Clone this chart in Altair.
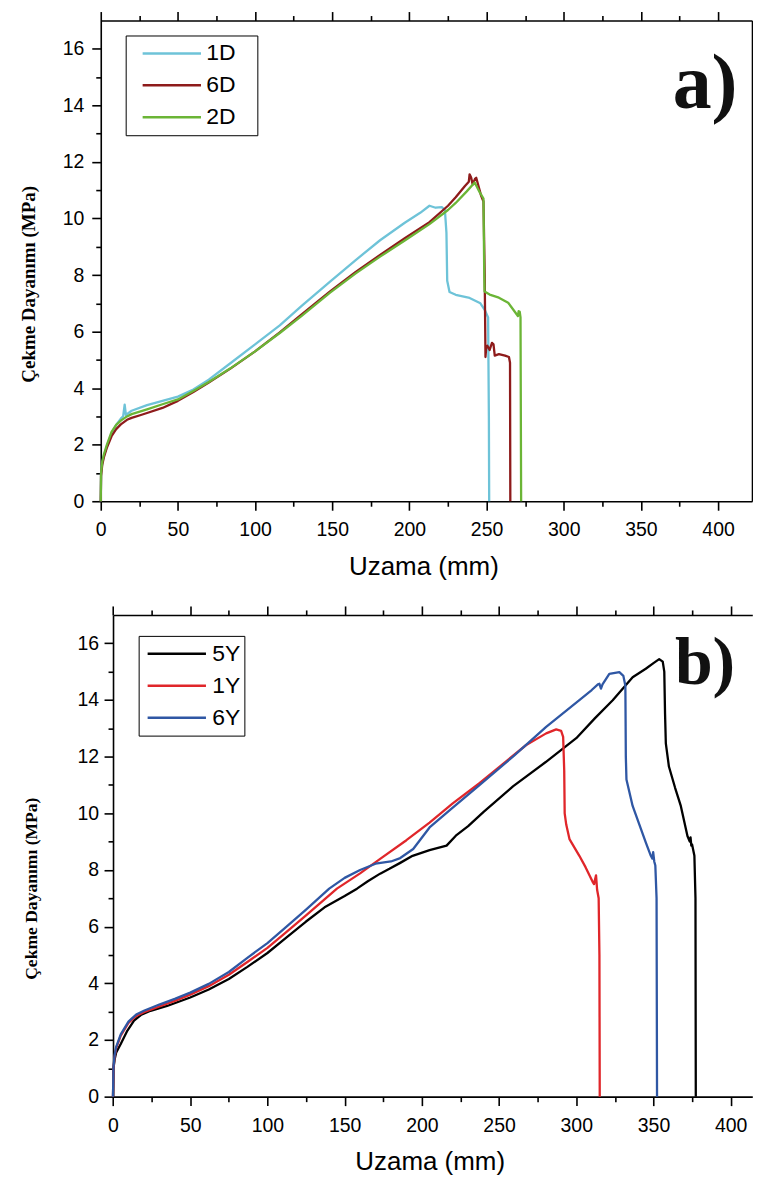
import altair as alt
import pandas as pd

# ---------------- Panel a) data ----------------
A_1D_x = [0, 0.2, 1, 2, 4, 7, 10, 13, 14.5, 15.5, 16.3, 20, 30, 40, 50, 60, 70, 84, 100, 116,
          130, 148.6, 165, 181, 197, 207, 213, 217, 221, 223, 224, 224.5, 226, 230, 239, 246,
          249, 251, 251.5, 251.7]
A_1D_y = [0, 1.0, 1.35, 1.6, 1.95, 2.4, 2.7, 2.92, 3.0, 3.42, 3.05, 3.2, 3.4, 3.55, 3.7, 3.95,
          4.3, 4.88, 5.55, 6.22, 6.9, 7.77, 8.52, 9.23, 9.85, 10.2, 10.45, 10.38, 10.4, 10.3,
          9.5, 7.8, 7.4, 7.3, 7.19, 7.0, 6.75, 6.5, 3.0, 0]

A_6D_x = [0, 0.2, 1, 2, 4, 7, 10, 13, 17, 20, 26, 30, 40, 50, 60, 70, 84, 100, 116, 130, 148.6,
          165, 181, 197, 213, 225, 230, 236, 238.5, 239, 240, 241, 242.5, 243.3, 244.5, 246.5,
          248, 248.8, 249, 249.3, 249.8, 250.5, 252, 253.5, 254.5, 255.3, 258, 262, 264.5, 265.2,
          265.4]
A_6D_y = [0, 0.9, 1.3, 1.55, 1.9, 2.3, 2.55, 2.72, 2.88, 2.95, 3.05, 3.12, 3.3, 3.55, 3.86, 4.2,
          4.69, 5.3, 5.97, 6.6, 7.42, 8.1, 8.71, 9.3, 9.87, 10.45, 10.75, 11.15, 11.3, 11.56,
          11.45, 11.2, 11.4, 11.44, 11.2, 10.8, 10.6, 8.0, 6.8, 5.1, 5.45, 5.5, 5.35, 5.6, 5.55,
          5.15, 5.2, 5.15, 5.1, 4.9, 0]

A_2D_x = [0, 0.2, 1, 2, 4, 7, 10, 13, 17, 20, 30, 40, 50, 60, 70, 84, 100, 116, 130, 148.6, 165,
          181, 197, 213, 225, 230, 237, 242.3, 245.6, 248, 248.5, 248.7, 252, 258, 264, 267,
          270.3, 270.8, 271.5, 272, 272.4]
A_2D_y = [0, 1.0, 1.4, 1.65, 2.0, 2.45, 2.7, 2.85, 3.0, 3.08, 3.25, 3.43, 3.6, 3.9, 4.22, 4.7,
          5.3, 5.95, 6.55, 7.38, 8.05, 8.65, 9.22, 9.8, 10.3, 10.55, 10.95, 11.27, 10.92, 10.7,
          8.0, 7.42, 7.31, 7.2, 7.02, 6.8, 6.55, 6.72, 6.7, 6.5, 0]

# ---------------- Panel b) data ----------------
B_5Y_x = [0, 0.3, 1, 2, 5, 9, 13.6, 18, 24.3, 35, 50, 62, 75, 87, 100, 112, 125, 137, 150, 158,
          165, 173, 179, 186, 194, 205, 216, 222, 230, 240, 259, 280, 300, 312, 323.6, 336.5, 345,
          350, 353.7, 356, 357, 357.5, 358, 360, 364, 367.7, 372, 373.5, 374, 374.5, 375, 376.5,
          377.2, 377.4]
B_5Y_y = [0, 1.0, 1.3, 1.55, 1.86, 2.3, 2.68, 2.88, 3.03, 3.2, 3.5, 3.78, 4.15, 4.58, 5.07, 5.6,
          6.18, 6.68, 7.08, 7.34, 7.6, 7.87, 8.04, 8.25, 8.5, 8.7, 8.86, 9.21, 9.55, 10.05, 10.95,
          11.8, 12.65, 13.35, 13.99, 14.8, 15.1, 15.3, 15.44, 15.35, 15.0, 13.5, 12.47, 11.65,
          10.9, 10.26, 9.2, 9.0, 9.15, 8.86, 8.9, 8.5, 7.0, 0]

B_1Y_x = [0, 0.3, 1, 2, 5, 10, 15, 20, 30, 40, 50, 62, 75, 87, 100, 112, 125, 145, 160, 173, 190,
          205, 220, 237.5, 252, 267.6, 280.5, 287, 290.2, 291.5, 292.2, 292.5, 293.5, 295.6, 302,
          306, 310.6, 311.5, 312.8, 313.5, 314.5, 315, 315.2]
B_1Y_y = [0, 1.0, 1.4, 1.7, 2.15, 2.6, 2.85, 2.98, 3.18, 3.38, 3.6, 3.9, 4.3, 4.75, 5.25, 5.8, 6.4,
          7.34, 7.88, 8.39, 9.05, 9.67, 10.35, 11.07, 11.72, 12.41, 12.82, 12.96, 12.91, 12.7,
          11.5, 10.0, 9.6, 9.09, 8.5, 8.1, 7.58, 7.5, 7.81, 7.3, 7.0, 5.0, 0]

B_6Y_x = [0, 0.3, 1, 2, 5, 10, 15, 20, 30, 40, 50, 62, 75, 87, 100, 112, 125, 140, 150, 160, 170,
          180, 186, 194.4, 205, 220, 237.5, 259, 280.5, 302, 310, 314, 315, 316, 317, 321.4, 327.9,
          330.5, 331.8, 332.1, 332.5, 336.5, 345, 348.3, 349.3, 349.8, 350.5, 351.2, 352, 352.3]
B_6Y_y = [0, 1.05, 1.45, 1.75, 2.2, 2.65, 2.9, 3.03, 3.25, 3.45, 3.67, 3.98, 4.4, 4.9, 5.42, 5.98,
          6.6, 7.34, 7.72, 8.0, 8.22, 8.3, 8.42, 8.74, 9.5, 10.2, 11.0, 12.0, 13.05, 13.99, 14.35,
          14.55, 14.57, 14.4, 14.55, 14.92, 14.98, 14.85, 14.5, 12.0, 11.19, 10.26, 8.97, 8.5, 8.4,
          8.63, 8.3, 8.16, 7.0, 0]

A_NAMES = ["1D", "6D", "2D"]
A_COLORS = ["#6EC3D8", "#8E1B1B", "#6BB536"]
B_NAMES = ["5Y", "1Y", "6Y"]
B_COLORS = ["#000000", "#E0262A", "#2F57A4"]

X_TICKS = list(range(0, 401, 25))
Y_TICKS = list(range(0, 17))
X_TITLE = "Uzama (mm)"
Y_TITLE = "Çekme Dayanımı (MPa)"
TAG_A = ["a)", 391.6, 13.92]
TAG_B = ["b)", 383.4, 14.55]


def frame(series):
    rows = []
    for name, xs, ys in series:
        for i, (x, y) in enumerate(zip(xs, ys)):
            rows.append({"seri": name, "uzama": x, "gerilme": y, "i": i})
    return pd.DataFrame(rows)


COMMON = dict(domainColor="black", domainWidth=1.6, tickColor="black", tickWidth=1.6,
              grid=False, labelFont="Liberation Sans", labelFontSize=19.5,
              labelColor="black")
XTICK = {"condition": {"test": "datum.value % 50 === 0", "value": 9}, "value": 5}
YTICK = {"condition": {"test": "datum.value % 2 === 0", "value": 9}, "value": 5}
ORIGIN_X = 100      # page x of the common plot origin
PAGE_LEFT = 8


def panel(df, names, colors, xmax, w, shift, h, lx, ly, symoff, laboff, suffix,
          ttl_pad, ttl_y, ttl_fs, ylab_pad, tag, tag_fs, right_border):
    xs = alt.Scale(domain=[0, xmax], range=[shift, shift + w], nice=False, zero=False)
    ys = alt.Scale(domain=[0, 17], nice=False, zero=False)
    x_axis = alt.Axis(orient="bottom", values=X_TICKS, tickSize=XTICK,
                      labelExpr="datum.value % 50 === 0 ? datum.label : ''",
                      labelPadding=10.5, labelFlush=False, labelOverlap=False,
                      title=X_TITLE, titleFont="Liberation Sans", titleFontSize=26,
                      titleFontWeight="normal", titleColor="black", titlePadding=14,
                      titleX=shift + w / 2 - 3, **COMMON)
    y_axis = alt.Axis(orient="left", values=Y_TICKS, tickSize=YTICK, offset=-shift,
                      labelExpr="datum.value % 2 === 0 ? datum.label : ''",
                      labelPadding=ylab_pad, labelOverlap=False,
                      title=Y_TITLE, titleFont="Liberation Serif", titleFontSize=ttl_fs,
                      titleFontWeight="bold", titleColor="black", titlePadding=ttl_pad,
                      titleY=ttl_y, **COMMON)
    legend = alt.Legend(orient="none", legendX=lx, legendY=ly, title=None,
                        strokeColor="black", padding=4, symbolType="stroke",
                        symbolSize=3422, symbolStrokeWidth=2.5, symbolOffset=symoff,
                        labelOffset=laboff, labelFont="Liberation Sans", labelFontSize=23,
                        labelColor="black", clipHeight=28, rowPadding=4,
                        labelExpr="datum.label + '" + suffix + "'")
    lines = alt.Chart(df).mark_line(strokeWidth=2.3, strokeJoin="round").encode(
        x=alt.X("uzama:Q", scale=xs, axis=x_axis),
        y=alt.Y("gerilme:Q", scale=ys, axis=y_axis),
        color=alt.Color("seri:N", scale=alt.Scale(domain=names, range=colors), legend=legend),
        order="i:Q",
    )
    top_axis = alt.Axis(orient="top", values=X_TICKS, tickSize=XTICK, labels=False,
                        title=None, **COMMON)
    if right_border:
        side_axis = alt.Axis(orient="right", ticks=False, labels=False, title=None, **COMMON)
    else:
        side_axis = None
    frame_layer = alt.Chart(df).mark_line(strokeOpacity=0).encode(
        x=alt.X("uzama:Q", scale=xs, axis=top_axis),
        y=alt.Y("gerilme:Q", scale=ys, axis=side_axis),
        detail="seri:N",
        order="i:Q",
    )
    tag_df = pd.DataFrame({"t": [tag[0]], "x": [tag[1]], "y": [tag[2]]})
    anchor_axis = alt.Axis(orient="left", offset=ORIGIN_X - PAGE_LEFT, ticks=False,
                           labels=False, title=None, domainOpacity=0, grid=False)
    tag_layer = alt.Chart(tag_df).mark_text(
        font="Liberation Serif", fontWeight="bold", fontSize=tag_fs, color="#111111",
        align="center", baseline="alphabetic").encode(
        x=alt.X("x:Q", scale=xs, axis=None),
        y=alt.Y("y:Q", scale=ys, axis=anchor_axis),
        text="t:N",
    )
    return alt.layer(lines, frame_layer, tag_layer).resolve_axis(
        x="independent", y="independent").properties(width=shift + w, height=h)


df_a = frame([("1D", A_1D_x, A_1D_y), ("6D", A_6D_x, A_6D_y), ("2D", A_2D_x, A_2D_y)])
df_b = frame([("5Y", B_5Y_x, B_5Y_y), ("1Y", B_1Y_x, B_1Y_y), ("6Y", B_6Y_x, B_6Y_y)])

pa = panel(df_a, A_NAMES, A_COLORS, 422, 653, 0, 482, 25, 15, 11.75, 4,
           "\u2800", 24, 264, 19, 8, TAG_A, 78, True)
pb = panel(df_b, B_NAMES, B_COLORS, 414, 641, 12.3, 483, 38, 21, 3.75, 5,
           "", 37, 274, 17.6, 5.4, TAG_B, 68, False)

chart = alt.vconcat(pa, pb, spacing=24).resolve_scale(
    x="independent", y="independent", color="independent").properties(
    padding={"left": 0, "top": 0, "right": 0, "bottom": 0}).configure_view(
    stroke="transparent")

chart.save("out.html", embed_options={"renderer": "svg", "actions": False})
